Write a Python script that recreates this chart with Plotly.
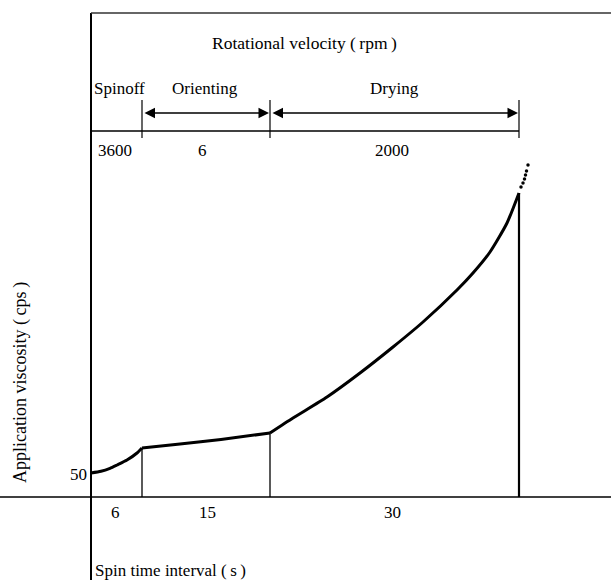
import plotly.graph_objects as go

# ---- data (diagram units) ----
phase_names = ["Spinoff", "Orienting", "Drying"]
rpm_labels = ["3600", "6", "2000"]
interval_labels = ["6", "15", "30"]
phase_edges_x = [0, 51, 179, 428]
viscosity_tick = "50"
viscosity_tick_y = 23

spinoff_x = [0, 10, 19, 26, 36, 46, 51]
spinoff_y = [24, 25.7, 28.7, 32, 37, 44, 49]
orienting_x = [51, 89, 130, 179]
orienting_y = [49, 53, 57.5, 64]
drying_x = [179, 202, 236, 269, 302, 332, 366, 382, 399, 416, 428]
drying_y = [64, 79, 100, 124, 150, 175, 207, 224, 245, 274, 304]
extrap_x = [430, 432, 433.5, 434.5, 435.5, 437]
extrap_y = [310, 314, 318, 322, 326, 332]

FONT = "Liberation Serif"
TS = "\u2009"
fig = go.Figure()

def seg(x, y, w=1.5, color="black", shape="linear"):
    fig.add_trace(go.Scatter(x=x, y=y, mode="lines",
                             line=dict(color=color, width=w, shape=shape, smoothing=0.6),
                             hoverinfo="skip", showlegend=False))

# axes
seg([0, 0], [-83, 484], 2)
seg([-91, 520], [0, 0], 1.5)
# top frame line and rpm baseline
seg([0, 520], [484, 484], 1.3, "#333")
seg([0, phase_edges_x[-1]], [366, 366], 1.5)
# ticks in rpm band
for xe in phase_edges_x[1:]:
    seg([xe, xe], [359, 397], 1.2)

# viscosity curve
seg(spinoff_x, spinoff_y, 3, shape="spline")
seg(orienting_x, orienting_y, 3, shape="spline")
seg(drying_x, drying_y, 3, shape="spline")
fig.add_trace(go.Scatter(x=extrap_x, y=extrap_y, mode="markers",
                         marker=dict(color="black", size=3.5), hoverinfo="skip", showlegend=False))

# phase boundary drop lines
end_y = [spinoff_y[-1], orienting_y[-1], drying_y[-1]]
for xe, ye, w in zip(phase_edges_x[1:], end_y, [1.3, 1.3, 2.2]):
    seg([xe, xe], [0, ye], w)

ann = []
# double arrows
for a, b in [(phase_edges_x[1], phase_edges_x[2]), (phase_edges_x[2], phase_edges_x[3])]:
    ann.append(dict(x=b - 1, y=384, ax=a + 1, ay=384, xref="x", yref="y", axref="x", ayref="y",
                    showarrow=True, arrowhead=2, arrowside="end+start", arrowsize=1.4,
                    arrowwidth=1.5, arrowcolor="black", text="", standoff=0, startstandoff=0))

def txt(s, x, y, xanchor="center", size=17, angle=0):
    ann.append(dict(text=s, x=x, y=y, xref="x", yref="y", showarrow=False,
                    xanchor=xanchor, yanchor="middle", textangle=angle,
                    font=dict(family=FONT, size=size, color="black")))

txt(f"Rotational velocity ({TS}rpm{TS})", 213, 454, size=17.5)
txt(phase_names[0], 0.5, 409, "left")
txt(phase_names[1], 114, 409)
txt(phase_names[2], 303, 409)
for c, r in zip([24, 111, 301], rpm_labels):
    txt(r, c, 347)
for c, s in zip([24, 116, 301], interval_labels):
    txt(s, c, -15)
txt(viscosity_tick, -2, viscosity_tick_y, "right")
txt(f"Spin time interval ({TS}s{TS})", 2, -73, "left")
txt(f"Application viscosity ({TS}cps{TS})", -71, 114, size=18, angle=-90)

fig.update_layout(
    width=611, height=580, margin=dict(l=0, r=0, t=0, b=0),
    paper_bgcolor="white", plot_bgcolor="white",
    xaxis=dict(range=[-91, 520], visible=False, fixedrange=True),
    yaxis=dict(range=[-83, 497], visible=False, fixedrange=True),
    annotations=ann, showlegend=False,
)
fig.write_html("out.html", config={"displayModeBar": False},
               post_script="document.body.style.margin='0';document.body.style.overflow='hidden';")
